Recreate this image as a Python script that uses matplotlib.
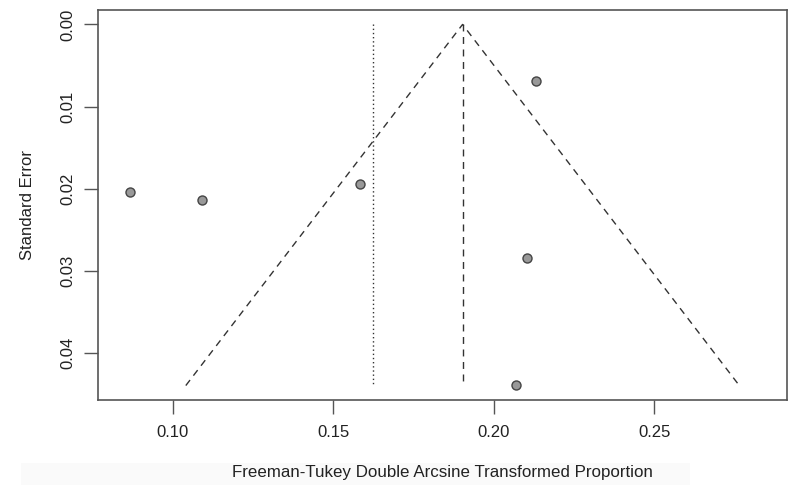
import matplotlib
matplotlib.use("Agg")
import matplotlib.pyplot as plt
from matplotlib.patches import Rectangle

plt.rcParams['font.family'] = ['Liberation Sans', 'DejaVu Sans']

# Study estimates (Freeman-Tukey transformed) and their standard errors
effects = [0.0867, 0.1090, 0.1584, 0.2133, 0.2103, 0.2070]
std_errors = [0.02046, 0.02135, 0.0194, 0.00694, 0.02842, 0.04393]

pooled_fixed = 0.1903      # apex of the funnel
pooled_random = 0.1623     # dotted reference line
se_max = 0.0440
z = 1.96

x_ticks = [0.10, 0.15, 0.20, 0.25]
y_ticks = [0.00, 0.01, 0.02, 0.03, 0.04]

fig = plt.figure(figsize=(7.99, 4.87), dpi=100)
ax = fig.add_axes([98 / 799, 1 - 400 / 487, (787 - 98) / 799, (400 - 10) / 487])

# funnel limits
ax.plot([pooled_fixed - z * se_max, pooled_fixed, pooled_fixed + z * se_max],
        [se_max, 0.0, se_max], color='#333333', lw=1.0, ls=(0, (5, 4)))
ax.plot([pooled_fixed, pooled_fixed], [0.0, se_max], color='#333333', lw=1.0,
        ls=(0, (5, 4)))
ax.plot([pooled_random, pooled_random], [0.0, se_max], color='#333333', lw=1.0,
        ls=(0, (1, 2)))

ax.plot(effects, std_errors, 'o', ms=6.5, mfc='#999999', mec='#444444', mew=1.0,
        zorder=3)

ax.set_xlim(0.0767, 0.2914)
ax.set_ylim(0.04576, -0.00176)
ax.set_xticks(x_ticks)
ax.set_xticklabels([f"{v:.2f}" for v in x_ticks])
ax.set_yticks(y_ticks)
ax.set_yticklabels([f"{v:.2f}" for v in y_ticks], rotation=90, va='center')

for side in ['top', 'right', 'bottom', 'left']:
    ax.spines[side].set_color('#555555')
    ax.spines[side].set_linewidth(1.2)
ax.tick_params(axis='both', length=10, width=1.0, color='#555555',
               labelsize=12, labelcolor='#222222', pad=8)
ax.tick_params(axis='y', pad=6)

fig.text(28 / 799, 1 - 205 / 487, 'Standard Error', rotation=90,
         ha='center', va='center', fontsize=12, color='#222222')

# faint strip behind the axis title
fig.patches.append(Rectangle((21 / 799, 1 - 485 / 487), (690 - 21) / 799, 22 / 487,
                             transform=fig.transFigure, facecolor='#fafafa',
                             edgecolor='none', zorder=0))
fig.text(442 / 799, 1 - 472 / 487, 'Freeman-Tukey Double Arcsine Transformed Proportion',
         ha='center', va='center', fontsize=12.2, color='#222222', zorder=2)

fig.savefig('out.png', dpi=100)
